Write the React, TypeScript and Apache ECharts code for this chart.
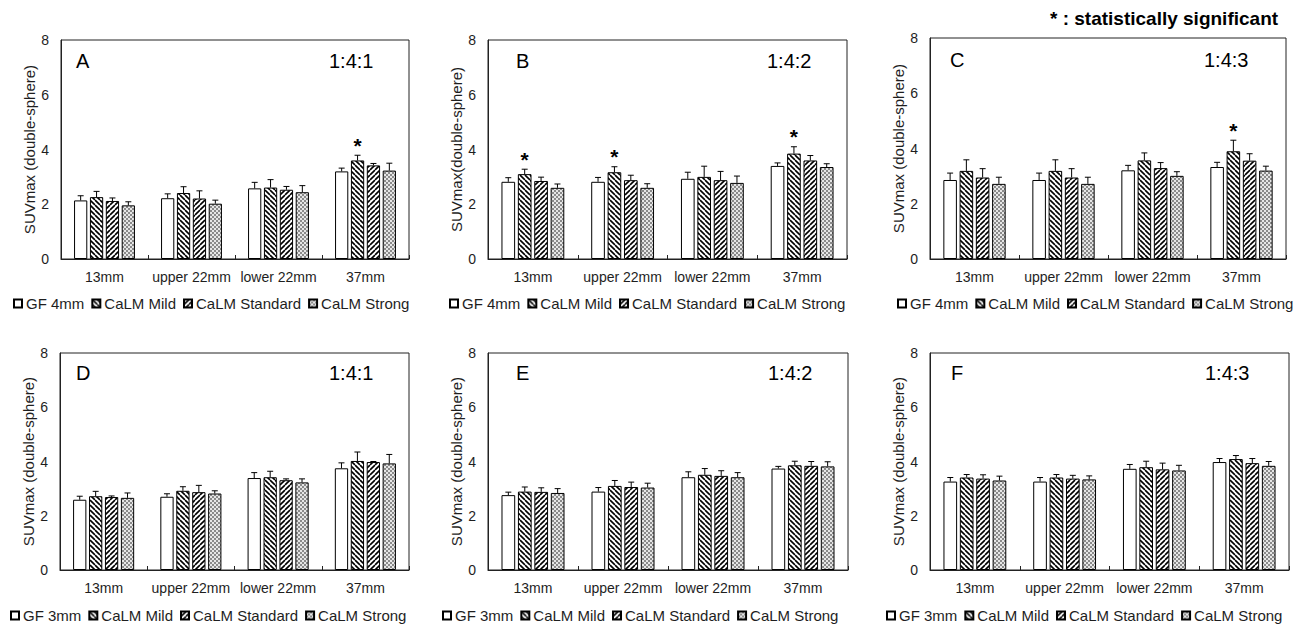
import React, { useEffect, useRef } from "react";
import * as echarts from "echarts";

const categories = ["13mm", "upper 22mm", "lower 22mm", "37mm"];
const topGroups = ["GF 4mm", "CaLM Mild", "CaLM Standard", "CaLM Strong"];
const bottomGroups = ["GF 3mm", "CaLM Mild", "CaLM Standard", "CaLM Strong"];
const yMin = 0;
const yMax = 8;
const yInterval = 2;

// Panel A (1:4:1, GF 4mm)
const meanA_GF = [2.14, 2.22, 2.58, 3.2];
const meanA_Mild = [2.26, 2.41, 2.61, 3.6];
const meanA_Std = [2.12, 2.21, 2.53, 3.42];
const meanA_Strong = [1.96, 2.02, 2.44, 3.23];
const errA_GF = [0.17, 0.16, 0.22, 0.12];
const errA_Mild = [0.21, 0.23, 0.29, 0.19];
const errA_Std = [0.11, 0.28, 0.12, 0.07];
const errA_Strong = [0.13, 0.13, 0.24, 0.27];
const sigA = [[3, 1]];

// Panel B (1:4:2, GF 4mm)
const meanB_GF = [2.82, 2.82, 2.93, 3.4];
const meanB_Mild = [3.1, 3.17, 3.0, 3.85];
const meanB_Std = [2.85, 2.88, 2.88, 3.6];
const meanB_Strong = [2.6, 2.6, 2.78, 3.36];
const errB_GF = [0.15, 0.16, 0.24, 0.11];
const errB_Mild = [0.18, 0.2, 0.39, 0.25];
const errB_Std = [0.14, 0.18, 0.32, 0.18];
const errB_Strong = [0.14, 0.15, 0.25, 0.12];
const sigB = [[0, 1], [1, 1], [3, 1]];

// Panel C (1:4:3, GF 4mm)
const meanC_GF = [2.86, 2.86, 3.21, 3.33];
const meanC_Mild = [3.19, 3.19, 3.57, 3.9];
const meanC_Std = [2.95, 2.95, 3.29, 3.56];
const meanC_Strong = [2.72, 2.72, 3.01, 3.2];
const errC_GF = [0.25, 0.25, 0.18, 0.17];
const errC_Mild = [0.4, 0.4, 0.27, 0.4];
const errC_Std = [0.32, 0.32, 0.2, 0.25];
const errC_Strong = [0.24, 0.24, 0.15, 0.16];
const sigC = [[3, 1]];

// Panel D (1:4:1, GF 3mm)
const meanD_GF = [2.59, 2.7, 3.39, 3.75];
const meanD_Mild = [2.72, 2.92, 3.42, 4.02];
const meanD_Std = [2.69, 2.87, 3.31, 3.98];
const meanD_Strong = [2.66, 2.82, 3.23, 3.93];
const errD_GF = [0.13, 0.11, 0.2, 0.2];
const errD_Mild = [0.18, 0.15, 0.22, 0.33];
const errD_Std = [0.04, 0.25, 0.05, 0.02];
const errD_Strong = [0.18, 0.1, 0.13, 0.33];
const sigD: number[][] = [];

// Panel E (1:4:2, GF 3mm)
const meanE_GF = [2.76, 2.89, 3.42, 3.74];
const meanE_Mild = [2.89, 3.1, 3.51, 3.86];
const meanE_Std = [2.88, 3.06, 3.47, 3.84];
const meanE_Strong = [2.84, 3.04, 3.42, 3.82];
const errE_GF = [0.11, 0.15, 0.2, 0.08];
const errE_Mild = [0.17, 0.2, 0.23, 0.15];
const errE_Std = [0.15, 0.18, 0.19, 0.16];
const errE_Strong = [0.16, 0.16, 0.17, 0.17];
const sigE: number[][] = [];

// Panel F (1:4:3, GF 3mm)
const meanF_GF = [3.26, 3.26, 3.73, 3.98];
const meanF_Mild = [3.41, 3.41, 3.79, 4.09];
const meanF_Std = [3.37, 3.37, 3.71, 3.94];
const meanF_Strong = [3.3, 3.34, 3.67, 3.84];
const errF_GF = [0.15, 0.15, 0.16, 0.13];
const errF_Mild = [0.11, 0.11, 0.22, 0.13];
const errF_Std = [0.14, 0.12, 0.23, 0.17];
const errF_Strong = [0.16, 0.13, 0.19, 0.16];
const sigF: number[][] = [];

const panelLetters = ["A", "B", "C", "D", "E", "F"];
const panelRatios = ["1:4:1", "1:4:2", "1:4:3", "1:4:1", "1:4:2", "1:4:3"];
const yNames = [
  "SUVmax (double-sphere)",
  "SUVmax(double-sphere)",
  "SUVmax (double-sphere)",
  "SUVmax (double-sphere)",
  "SUVmax (double-sphere)",
  "SUVmax (double-sphere)",
];
const sigNote = "* : statistically significant";

const panels = [
  { means: [meanA_GF, meanA_Mild, meanA_Std, meanA_Strong], errs: [errA_GF, errA_Mild, errA_Std, errA_Strong], sig: sigA, groups: topGroups },
  { means: [meanB_GF, meanB_Mild, meanB_Std, meanB_Strong], errs: [errB_GF, errB_Mild, errB_Std, errB_Strong], sig: sigB, groups: topGroups },
  { means: [meanC_GF, meanC_Mild, meanC_Std, meanC_Strong], errs: [errC_GF, errC_Mild, errC_Std, errC_Strong], sig: sigC, groups: topGroups },
  { means: [meanD_GF, meanD_Mild, meanD_Std, meanD_Strong], errs: [errD_GF, errD_Mild, errD_Std, errD_Strong], sig: sigD, groups: bottomGroups },
  { means: [meanE_GF, meanE_Mild, meanE_Std, meanE_Strong], errs: [errE_GF, errE_Mild, errE_Std, errE_Strong], sig: sigE, groups: bottomGroups },
  { means: [meanF_GF, meanF_Mild, meanF_Std, meanF_Strong], errs: [errF_GF, errF_Mild, errF_Std, errF_Strong], sig: sigF, groups: bottomGroups },
];

// layout
const grids = [
  { left: 61, top: 40, width: 348, height: 219 },
  { left: 488, top: 40, width: 359, height: 219 },
  { left: 930, top: 38, width: 356, height: 221 },
  { left: 60, top: 353, width: 349, height: 217 },
  { left: 488, top: 353, width: 360, height: 217 },
  { left: 930, top: 353, width: 359, height: 217 },
];
const legendPos = [
  { left: 11, top: 294 },
  { left: 447, top: 294 },
  { left: 895, top: 294 },
  { left: 8, top: 606 },
  { left: 440, top: 606 },
  { left: 884, top: 606 },
];
const letterPos = [
  [76, 61, 329], [516, 61, 767], [950, 60, 1204],
  [76, 373, 329], [516, 373, 768], [951, 373, 1205],
];

const BAR_GAP = 0.2;
const CAT_GAP = 0.3;
const TEXT = "#1e1e1e";
const FONT = "Liberation Sans, Arial, sans-serif";

function makeStripe(dir: number) {
  const s = 5;
  const c = document.createElement("canvas");
  c.width = s;
  c.height = s;
  const ctx = c.getContext("2d")!;
  ctx.fillStyle = "#fff";
  ctx.fillRect(0, 0, s, s);
  ctx.strokeStyle = "#000";
  ctx.lineWidth = 1.6;
  ctx.beginPath();
  for (let k = -1; k <= 1; k++) {
    if (dir > 0) {
      ctx.moveTo(k * s, 0);
      ctx.lineTo(k * s + s, s);
    } else {
      ctx.moveTo(k * s, s);
      ctx.lineTo(k * s + s, 0);
    }
  }
  ctx.stroke();
  return c;
}

function makeChecker() {
  const c = document.createElement("canvas");
  c.width = 4;
  c.height = 4;
  const ctx = c.getContext("2d")!;
  ctx.fillStyle = "#e6e6e6";
  ctx.fillRect(0, 0, 4, 4);
  ctx.fillStyle = "#8a8a8a";
  ctx.fillRect(0, 0, 2, 2);
  ctx.fillRect(2, 2, 2, 2);
  return c;
}

export default function App() {
  const ref = useRef<HTMLDivElement>(null);
  useEffect(() => {
    if (!ref.current) return;
    const chart = echarts.init(ref.current, undefined, { renderer: "svg" });
    const fills: any[] = [
      "#ffffff",
      { image: makeStripe(1), repeat: "repeat" },
      { image: makeStripe(-1), repeat: "repeat" },
      { image: makeChecker(), repeat: "repeat" },
    ];

    const series: any[] = [];
    panels.forEach((p, i) => {
      p.means.forEach((vals, s) => {
        series.push({
          type: "bar",
          name: p.groups[s],
          xAxisIndex: i,
          yAxisIndex: i,
          data: vals,
          barGap: `${BAR_GAP * 100}%`,
          barCategoryGap: `${CAT_GAP * 100}%`,
          itemStyle: { color: fills[s], borderColor: "#000", borderWidth: 1 },
          emphasis: { disabled: true },
        });
      });
      const items: any[] = [];
      p.means.forEach((vals, s) => {
        vals.forEach((v, c) => {
          const sig = p.sig.some((q) => q[0] === c && q[1] === s) ? 1 : 0;
          items.push([c, s, v, p.errs[s][c], sig]);
        });
      });
      series.push({
        type: "custom",
        xAxisIndex: i,
        yAxisIndex: i,
        silent: true,
        z: 10,
        encode: { x: 0, y: 2 },
        data: items,
        renderItem: (params: any, api: any) => {
          const c = api.value(0);
          const s = api.value(1);
          const m = api.value(2);
          const e = api.value(3);
          const sig = api.value(4);
          const base = api.coord([c, m]);
          const top = api.coord([c, m + e]);
          const band = api.size([1, 0])[0];
          const bw = (band * (1 - CAT_GAP)) / (4 + 3 * BAR_GAP);
          const x = base[0] + (s - 1.5) * bw * (1 + BAR_GAP);
          const children: any[] = [
            { type: "line", shape: { x1: x, y1: base[1], x2: x, y2: top[1] }, style: { stroke: "#000", lineWidth: 1 } },
            { type: "line", shape: { x1: x - 3, y1: top[1], x2: x + 3, y2: top[1] }, style: { stroke: "#000", lineWidth: 1 } },
          ];
          if (sig) {
            children.push({
              type: "text",
              x: x,
              y: top[1] - 10,
              style: {
                text: "*",
                fill: "#000",
                font: `bold 21px ${FONT}`,
                textAlign: "center",
                textVerticalAlign: "middle",
              },
            });
          }
          return { type: "group", children };
        },
      });
    });

    const graphic: any[] = [];
    letterPos.forEach((lp, i) => {
      graphic.push({
        type: "text",
        x: lp[0],
        y: lp[1],
        style: { text: panelLetters[i], font: `20px ${FONT}`, fill: "#000", textVerticalAlign: "middle" },
      });
      graphic.push({
        type: "text",
        x: lp[2],
        y: lp[1],
        style: { text: panelRatios[i], font: `20px ${FONT}`, fill: "#000", textVerticalAlign: "middle" },
      });
    });
    graphic.push({
      type: "text",
      x: 1050,
      y: 18,
      style: { text: sigNote, font: `bold 19px ${FONT}`, fill: "#000", textVerticalAlign: "middle" },
    });

    chart.setOption({
      animation: false,
      backgroundColor: "#fff",
      textStyle: { fontFamily: FONT },
      grid: grids.map((g) => ({ ...g, show: true, borderColor: "#222", borderWidth: 1, backgroundColor: "transparent" })),
      xAxis: grids.map((_, i) => ({
        type: "category",
        gridIndex: i,
        data: categories,
        axisLine: { show: true, lineStyle: { color: "#222", width: 1 } },
        axisTick: { show: true, inside: true, length: 4, interval: 0, lineStyle: { color: "#222" } },
        axisLabel: { color: TEXT, fontSize: 14, margin: 11, interval: 0, fontFamily: FONT },
        splitLine: { show: false },
      })),
      yAxis: grids.map((_, i) => ({
        type: "value",
        gridIndex: i,
        min: yMin,
        max: yMax,
        interval: yInterval,
        name: yNames[i],
        nameLocation: "middle",
        nameGap: 22,
        nameTextStyle: { color: TEXT, fontSize: 15, fontFamily: FONT },
        axisLine: { show: true, lineStyle: { color: "#222", width: 1 } },
        axisTick: { show: false },
        axisLabel: { color: TEXT, fontSize: 14, margin: 12, fontFamily: FONT },
        splitLine: { show: false },
      })),
      legend: panels.map((p, i) => ({
        ...legendPos[i],
        orient: "horizontal",
        data: p.groups,
        icon: "rect",
        itemWidth: 8,
        itemHeight: 8,
        itemGap: 7,
        padding: [2, 2, 2, 2],
        selectedMode: false,
        textStyle: { color: TEXT, fontSize: 15, fontFamily: FONT, padding: [0, 0, 0, -1] },
      })),
      series,
      graphic,
    });
    return () => chart.dispose();
  }, []);
  return <div ref={ref} style={{ position: "absolute", left: 0, top: 0, width: 1302, height: 627 }} />;
}
